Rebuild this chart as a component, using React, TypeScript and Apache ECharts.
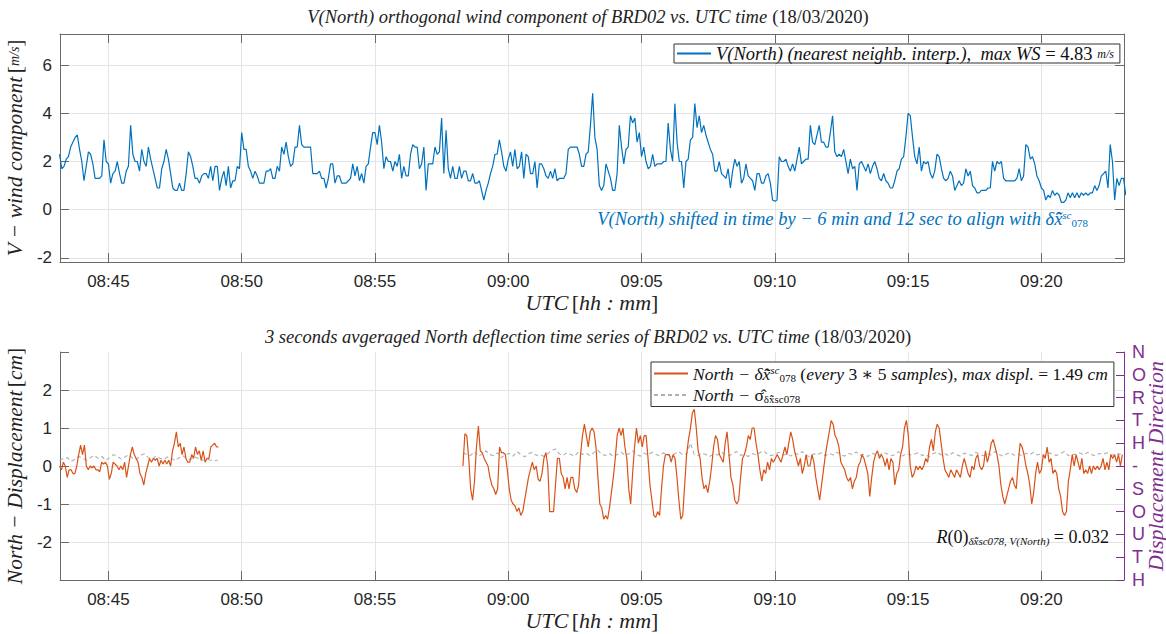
import React, { useEffect, useRef } from "react";
import * as echarts from "echarts";

// ---------- axis ranges / labels ----------
const X_MIN = "08:43:11";
const X_MAX = "09:23:06";
const X_TICK_STEP_MIN = 5;
const TOP_Y_RANGE = [-2.17, 7.29];
const TOP_Y_STEP = 2;
const BOT_Y_RANGE = [-3, 3];
const BOT_Y_STEP = 1;
const DIRECTION_LABELS = ["N", "O", "R", "T", "H", "-", "S", "O", "U", "T", "H"];

// ---------- V(North) wind component (nearest neighb.), m/s, every 5 s ----------
const vNorthStart = "08:43:10";
const vNorthStepSec = 5;
const vNorth = [
  2.3, 1.7, 1.8, 2.1, 2.2, 2.6, 2.8, 3.0, 3.1, 2.5,
  2.0, 1.2, 1.8, 2.4, 2.3, 1.9, 1.3, 1.3, 1.3, 1.4,
  2.9, 2.0, 1.9, 1.1, 1.5, 1.6, 2.0, 1.5, 1.1, 1.1,
  1.6, 1.8, 3.5, 2.3, 2.0, 2.0, 1.6, 2.5, 2.0, 1.8,
  2.6, 2.1, 1.7, 1.3, 0.9, 0.9, 1.7, 2.0, 2.5, 2.1,
  1.5, 0.9, 0.8, 0.8, 1.1, 0.8, 0.8, 1.5, 2.4, 2.2,
  1.8, 1.3, 1.3, 1.1, 1.4, 1.5, 1.5, 1.3, 1.8, 1.2,
  1.8, 1.8, 0.8, 1.3, 1.6, 1.0, 1.8, 0.9, 1.2, 1.2,
  1.8, 1.7, 3.2, 2.5, 2.5, 1.8, 1.6, 1.3, 1.6, 1.4,
  1.1, 1.1, 1.1, 1.6, 1.6, 1.7, 1.3, 1.3, 1.8, 1.6,
  2.6, 2.3, 2.8, 2.2, 1.8, 1.9, 2.6, 2.6, 3.5, 2.7,
  2.6, 2.6, 2.6, 2.6, 1.5, 1.5, 1.5, 1.6, 1.3, 1.3,
  0.9, 1.3, 1.9, 1.9, 1.1, 1.4, 1.4, 1.1, 1.1, 1.1,
  1.2, 1.3, 1.9, 1.4, 1.8, 1.2, 1.5, 1.1, 1.8, 1.9,
  2.6, 3.2, 3.2, 2.7, 3.5, 2.8, 1.7, 2.2, 2.0, 2.0,
  1.6, 2.0, 1.8, 2.3, 1.3, 1.8, 1.4, 1.4, 2.3, 2.7,
  2.6, 2.6, 1.7, 1.9, 2.6, 0.8, 1.9, 1.9, 1.9, 2.6,
  2.3, 2.4, 3.8, 1.5, 3.3, 1.7, 1.3, 1.8, 1.3, 1.3,
  1.8, 1.3, 1.6, 1.6, 1.2, 1.2, 1.5, 1.1, 1.1, 1.2,
  0.8, 0.4, 0.8, 1.1, 1.5, 1.8, 2.3, 2.3, 2.9, 2.4,
  1.8, 1.6, 2.1, 2.4, 1.8, 2.5, 1.7, 1.8, 2.4, 1.3,
  2.3, 2.2, 1.5, 1.5, 2.0, 0.9, 1.9, 1.9, 1.7, 1.4,
  1.3, 1.6, 1.3, 1.7, 1.2, 1.3, 1.3, 1.3, 1.5, 2.5,
  2.6, 2.6, 2.6, 2.6, 2.3, 1.8, 1.8, 2.3, 2.4, 3.5,
  4.83, 3.0, 2.5, 1.0, 0.8, 1.0, 1.9, 1.6, 1.3, 0.8,
  0.8, 1.5, 3.5, 2.6, 1.9, 2.5, 2.6, 3.9, 3.6, 3.8,
  2.8, 3.2, 2.2, 2.6, 2.0, 1.7, 1.8, 2.3, 1.8, 1.9,
  1.9, 1.9, 2.0, 2.0, 3.6, 2.5, 2.0, 4.4, 2.8, 2.0,
  2.0, 0.9, 2.0, 2.1, 2.9, 3.0, 4.4, 3.4, 3.9, 3.2,
  3.5, 3.1, 2.8, 2.5, 2.3, 1.6, 1.6, 2.0, 1.5, 1.4,
  1.3, 1.7, 0.9, 1.6, 2.1, 1.8, 2.0, 1.1, 1.3, 1.9,
  1.4, 1.3, 1.2, 0.8, 1.5, 1.5, 1.1, 1.1, 1.4, 1.5,
  1.1, 0.4, 0.35, 0.4, 2.2, 2.0, 2.0, 2.1, 1.8, 1.6,
  1.9, 1.6, 2.1, 2.6, 1.9, 2.0, 2.1, 2.1, 3.5, 2.8,
  2.7, 3.1, 3.5, 2.8, 2.8, 2.6, 2.6, 3.2, 3.9, 2.4,
  2.2, 2.3, 2.2, 2.5, 2.0, 1.5, 2.1, 1.7, 1.8, 0.8,
  1.9, 2.0, 1.8, 1.6, 1.9, 1.5, 1.8, 2.0, 1.7, 1.3,
  1.2, 1.5, 1.2, 1.1, 0.9, 0.9, 1.2, 1.6, 1.7, 2.1,
  2.2, 3.0, 4.0, 3.9, 3.0, 2.2, 1.9, 2.6, 1.6, 2.0,
  1.9, 2.0, 1.5, 1.3, 1.6, 2.3, 2.2, 1.7, 1.3, 1.2,
  1.3, 1.6, 1.4, 0.8, 1.0, 1.2, 1.0, 1.1, 1.7, 1.4,
  1.6, 1.0, 0.9, 0.7, 0.7, 0.8, 0.8, 0.8, 0.9, 0.9,
  2.0, 1.6, 2.0, 1.9, 2.0, 1.3, 1.2, 1.2, 1.2, 1.2,
  1.2, 1.3, 1.7, 1.2, 1.4, 2.7, 2.6, 2.1, 2.2, 1.9,
  1.4, 1.2, 0.9, 0.8, 0.4, 0.6, 0.5, 0.8, 0.6, 0.7,
  0.6, 0.3, 0.3, 0.4, 0.7, 0.5, 0.7, 0.5, 0.7, 0.5,
  0.7, 0.6, 0.7, 0.6, 0.7, 0.7, 1.0, 0.8, 1.0, 1.4,
  1.5, 1.6, 0.9, 2.7, 2.0, 0.4, 1.3, 1.0, 1.3, 1.3, 0.6,
];

// ---------- North displacement (cm), 3 s averaged ----------
const dispSeg1Start = "08:43:10";
const dispSeg1StepSec = 4.31;
const dispSeg1 = [
  0.0, -0.1, 0.1, 0.0, -0.3, -0.1, -0.1, -0.2, -0.2, 0.0,
  0.3, 0.55, 0.3, 0.55, 0.0, -0.1, 0.0, -0.05, 0.0, -0.1,
  -0.1, -0.15, 0.1, 0.05, 0.1, 0.0, -0.35, -0.2, 0.1, 0.05,
  0.0, -0.1, 0.0, -0.1, 0.1, -0.3, 0.0, 0.3, 0.5, 0.3,
  0.2, 0.1, -0.2, -0.3, -0.5, -0.2, 0.0, 0.2, 0.1, 0.2,
  0.15, 0.2, 0.0, 0.15, 0.05, 0.15, 0.05, 0.15, 0.0, 0.4,
  0.6, 0.9, 0.5, 0.6, 0.3, 0.5, 0.2, 0.1, 0.1, 0.3,
  0.2, 0.5, 0.3, 0.4, 0.15, 0.4, 0.1, 0.2, 0.2, 0.5,
  0.55, 0.6, 0.5, 0.5,
];
const dispSeg2Start = "08:58:18";
const dispSeg2StepSec = 4.34;
const dispSeg2 = [
  0.0, 0.85, 0.8, 0.2, -0.6, -0.9, -0.4, 0.5, 1.05, 0.4,
  0.35, 0.2, 0.1, 0.0, -0.3, -0.5, -0.6, -0.75, -0.6, 0.5,
  0.35, 0.35, 0.3, -0.1, -0.6, -0.9, -1.0, -1.05, -1.2, -1.1,
  -1.3, -1.2, -0.9, -0.6, -0.3, -0.1, 0.1, -0.1, 0.0, -0.35,
  -0.4, -0.2, 0.2, 0.35, 0.0, -1.2, -1.2, -1.2, -0.5, 0.2,
  0.2, -0.2, -0.3, -0.6, -0.3, -0.6, -0.3, -0.3, -0.6, -0.7,
  -0.5, 0.3, 0.8, 1.1, 0.8, 0.5, 0.9, 1.0, 0.9, 0.5,
  -0.3, -1.0, -1.1, -1.4, -1.3, -1.4, -1.1, -0.7, -0.3, 0.2,
  0.8, 1.0, 0.8, 1.0, 0.5, 0.2, -0.6, -1.0, -0.2, 0.5,
  1.0, 0.6, 0.8, 0.5, 0.8, 0.8, 0.2, -0.5, -0.9, -1.3,
  -1.35, -1.2, -1.3, -0.6, 0.0, 0.3, 0.3, 0.3, 0.1, 0.3,
  0.2, -0.3, -0.9, -1.4, -1.3, -0.5, 0.3, 0.7, 1.0, 1.4,
  1.49, 1.0, 0.4, 0.2, -0.3, -0.6, -0.5, -0.7, -0.4, 0.0,
  0.5, 0.8, 0.7, 0.3, 0.2, 0.1, 0.6, 0.9, 0.3, -0.3,
  -0.5, -0.9, -1.0, -0.9, -0.3, 0.2, 0.3, 0.5, 0.8, 0.7,
  1.0, 1.0, 0.6, 0.3, -0.1, -0.4, -0.1, -0.2, 0.1, -0.1,
  0.2, 0.1, 0.2, 0.3, 0.2, 0.1, 0.3, 0.5, 0.3, 0.6,
  0.9, 0.7, 0.4, 0.2, 0.0, 0.2, -0.2, 0.0, 0.3, 0.0,
  0.0, 0.3, 0.1, -0.3, -0.6, -0.9, -0.5, -0.1, 0.3, 0.6,
  0.9, 1.2, 1.1, 0.8, 0.7, 0.5, 0.1, 0.0, -0.1, -0.3,
  -0.4, -0.3, -0.6, -0.4, -0.3, 0.0, 0.1, 0.3, 0.2, 0.0,
  -0.2, -0.8, -0.3, 0.1, 0.3, 0.4, 0.2, 0.3, 0.2, 0.0,
  0.2, -0.1, 0.2, 0.1, -0.5, -0.2, -0.1, 0.3, 0.5, 1.0,
  1.2, 0.8, 0.0, -0.3, -0.2, 0.0, -0.1, 0.0, -0.1, 0.0,
  0.2, 0.1, 0.5, 0.7, 0.4, 0.9, 1.1, 1.0, 0.6, 0.2,
  -0.1, -0.2, -0.3, -0.1, -0.2, -0.3, -0.1, -0.2, -0.3, 0.0,
  0.2, 0.0, -0.2, -0.3, 0.0, -0.1, 0.2, 0.3, 0.0, -0.1,
  0.0, 0.4, 0.1, 0.3, 0.6, 0.7, 0.5, 0.3, 0.0, -0.5,
  -0.8, -1.0, -0.8, -0.6, -0.4, -0.3, -0.5, -0.6, 0.1, 0.6,
  0.5, 0.3, 0.0, -0.2, -0.5, -1.0, -0.7, -0.2, 0.1, -0.2,
  -0.1, 0.3, 0.2, 0.5, 0.1, 0.2, -0.2, -0.1, -0.2, -0.6,
  -0.8, -1.2, -1.3, -1.2, -0.4, -0.1, 0.3, 0.0, 0.3, 0.1,
  -0.1, 0.2, -0.2, -0.1, -0.2, 0.0, -0.2, 0.0, -0.1, 0.0,
  -0.1, 0.0, 0.2, -0.1, 0.1, -0.1, 0.3, 0.2, 0.3, 0.1,
  0.3, 0.0, 0.3,
];

// ---------- sigma of the displacement estimate (cm) ----------
const sigmaSeg1Start = "08:43:10";
const sigmaSeg1StepSec = 8.68;
const sigmaSeg1 = [
  0.15, 0.2, 0.22, 0.12, 0.18, 0.25, 0.2, 0.15, 0.22, 0.28,
  0.2, 0.25, 0.15, 0.22, 0.3, 0.25, 0.18, 0.24, 0.3, 0.2,
  0.18, 0.28, 0.32, 0.22, 0.18, 0.26, 0.2, 0.17, 0.24, 0.2,
  0.14, 0.22, 0.27, 0.19, 0.17, 0.24, 0.2, 0.15, 0.18, 0.16,
  0.14, 0.15,
];
const sigmaSeg2Start = "08:58:18";
const sigmaSeg2StepSec = 8.68;
const sigmaSeg2 = [
  0.35, 0.3, 0.28, 0.38, 0.25, 0.32, 0.4, 0.3, 0.27, 0.35,
  0.22, 0.3, 0.33, 0.26, 0.38, 0.3, 0.24, 0.32, 0.36, 0.28,
  0.3, 0.25, 0.33, 0.4, 0.45, 0.32, 0.28, 0.35, 0.3, 0.26,
  0.38, 0.3, 0.34, 0.27, 0.36, 0.42, 0.3, 0.28, 0.33, 0.25,
  0.3, 0.37, 0.28, 0.32, 0.4, 0.3, 0.26, 0.34, 0.29, 0.36,
  0.31, 0.27, 0.35, 0.3, 0.24, 0.33, 0.38, 0.29, 0.32, 0.6,
  0.3, 0.27, 0.34, 0.3, 0.25, 0.32, 0.29, 0.36, 0.3, 0.27,
  0.33, 0.38, 0.28, 0.3, 0.25, 0.33, 0.29, 0.35, 0.4, 0.3,
  0.27, 0.32, 0.36, 0.29, 0.31, 0.26, 0.34, 0.3, 0.38, 0.28,
  0.24, 0.32, 0.3, 0.35, 0.27, 0.33, 0.29, 0.36, 0.3, 0.26,
  0.33, 0.3, 0.37, 0.28, 0.31, 0.25, 0.34, 0.3, 0.28, 0.36,
  0.32, 0.27, 0.3, 0.38, 0.26, 0.33, 0.29, 0.31, 0.35, 0.28,
  0.3, 0.24, 0.33, 0.37, 0.29, 0.32, 0.27, 0.35, 0.3, 0.26,
  0.34, 0.3, 0.28, 0.36, 0.31, 0.27, 0.33, 0.29, 0.38, 0.3,
  0.26, 0.32, 0.35, 0.28, 0.31, 0.27, 0.34, 0.3, 0.36, 0.29,
  0.32, 0.26, 0.35, 0.3, 0.28, 0.33, 0.38, 0.27, 0.31, 0.3,
  0.34, 0.29, 0.36, 0.3, 0.27, 0.33, 0.3, 0.35, 0.28, 0.3,
  0.32, 0.3,
];

// ---------- helpers ----------
function toMin(s: string): number {
  const [h, m, sec] = s.split(":").map(Number);
  return h * 60 + m + (sec || 0) / 60;
}
function fmtHM(v: number): string {
  const r = Math.round(v);
  const h = Math.floor(r / 60);
  const m = r % 60;
  return String(h).padStart(2, "0") + ":" + String(m).padStart(2, "0");
}
function sampled(start: string, stepSec: number, values: number[]): (number | null)[][] {
  const t0 = toMin(start);
  return values.map((v, i) => [t0 + (i * stepSec) / 60, v]);
}
function withGap(a: (number | null)[][], b: (number | null)[][]) {
  const lastA = a[a.length - 1][0] as number;
  const firstB = b[0][0] as number;
  return [...a, [(lastA + firstB) / 2, null], ...b];
}

const BLUE = "#0072BD";
const ORANGE = "#D95319";
const GRAYDASH = "#AFAFAF";
const PURPLE = "#7E2F8E";
const AXIS = "#6a6a6a";
const TEXT = "#262626";
const GRID = "#e4e4e4";
const SERIF = "'Liberation Serif', 'DejaVu Serif', serif";
const SANS = "'Liberation Sans', Arial, sans-serif";

const it = (size: number, color = "#111") => ({ fontFamily: SERIF, fontStyle: "italic", fontWeight: "normal", fontSize: size, color });
const up = (size: number, color = "#111") => ({ fontFamily: SERIF, fontStyle: "normal", fontWeight: "normal", fontSize: size, color });
// zrender (graphic) rich styles use "fill"
const itZ = (size: number, fill: string) => ({ fontFamily: SERIF, fontStyle: "italic", fontWeight: "normal", fontSize: size, fill });
const upZ = (size: number, fill: string) => ({ fontFamily: SERIF, fontStyle: "normal", fontWeight: "normal", fontSize: size, fill });

const legendRich = (size: number) => ({
  i: it(size),
  n: up(size),
  f: it(12),
  sup: { ...it(11), verticalAlign: "top", padding: [0, 0, 8, 0] },
  sub: { ...up(11), verticalAlign: "bottom", padding: [8, 0, 0, 0] },
});

const xLabelFormatter = (v: number) =>
  Math.abs(v / X_TICK_STEP_MIN - Math.round(v / X_TICK_STEP_MIN)) < 1e-6 ? fmtHM(v) : "";

function makeOption() {
  const xMin = toMin(X_MIN);
  const xMax = toMin(X_MAX);
  const vData = sampled(vNorthStart, vNorthStepSec, vNorth);
  const dData = withGap(
    sampled(dispSeg1Start, dispSeg1StepSec, dispSeg1),
    sampled(dispSeg2Start, dispSeg2StepSec, dispSeg2)
  );
  const sData = withGap(
    sampled(sigmaSeg1Start, sigmaSeg1StepSec, sigmaSeg1),
    sampled(sigmaSeg2Start, sigmaSeg2StepSec, sigmaSeg2)
  );

  const baseX = (gridIndex: number, position: "bottom" | "top", withLabels: boolean, nameText: string) => ({
    type: "value",
    gridIndex,
    position,
    min: xMin,
    max: xMax,
    minInterval: X_TICK_STEP_MIN,
    maxInterval: X_TICK_STEP_MIN,
    axisLine: { show: true, onZero: false, lineStyle: { color: AXIS, width: 1 } },
    axisTick: { show: true, inside: true, length: 9, lineStyle: { color: AXIS } },
    axisLabel: {
      show: withLabels,
      showMinLabel: false,
      showMaxLabel: false,
      formatter: xLabelFormatter,
      fontFamily: SANS,
      fontSize: 17,
      color: TEXT,
      margin: 11,
    },
    splitLine: { show: withLabels, lineStyle: { color: GRID, width: 1 } },
    name: withLabels ? nameText : "",
    nameLocation: "middle",
    nameGap: 29,
    nameTextStyle: { rich: { i: it(22, "#222"), n: up(22, "#222") } },
  });

  const topY = (position: "left" | "right", withLabels: boolean) => ({
    type: "value",
    gridIndex: 0,
    position,
    min: TOP_Y_RANGE[0],
    max: TOP_Y_RANGE[1],
    minInterval: TOP_Y_STEP,
    maxInterval: TOP_Y_STEP,
    axisLine: { show: true, onZero: false, lineStyle: { color: AXIS, width: 1 } },
    axisTick: { show: true, inside: true, length: 9, lineStyle: { color: AXIS } },
    axisLabel: {
      show: withLabels,
      showMinLabel: false,
      showMaxLabel: false,
      formatter: (v: number) => (Math.abs(v - Math.round(v)) < 1e-6 ? String(v) : ""),
      fontFamily: SANS,
      fontSize: 17,
      color: TEXT,
      margin: 8,
    },
    splitLine: { show: withLabels, lineStyle: { color: GRID, width: 1 } },
    name: withLabels ? "{i|V − wind component} {n|[}{f|m/s}{n|]}" : "",
    nameLocation: "middle",
    nameRotate: 90,
    nameGap: 30,
    nameTextStyle: { rich: { i: it(21.5, "#222"), n: up(21.5, "#222"), f: it(14, "#222") } },
  });

  const botSplitColors = [
    "rgba(0,0,0,0)", GRID, GRID, GRID, GRID, GRID, "rgba(0,0,0,0)",
  ];

  return {
    animation: false,
    backgroundColor: "#ffffff",
    title: [
      {
        text: "{i|V(North) orthogonal wind component of BRD02 vs. UTC time} {n|(18/03/2020)}",
        left: 588,
        top: 7,
        textAlign: "center",
        padding: 0,
        textStyle: { fontWeight: "normal", rich: { i: it(18.5, "#222"), n: up(18.5, "#222") } },
      },
      {
        text: "{i|3 seconds avgeraged North deflection time series of BRD02 vs. UTC time} {n|(18/03/2020)}",
        left: 588,
        top: 327,
        textAlign: "center",
        padding: 0,
        textStyle: { fontWeight: "normal", rich: { i: it(18.5, "#222"), n: up(18.5, "#222") } },
      },
    ],
    grid: [
      { left: 60, top: 34, width: 1064, height: 228, containLabel: false, outerBoundsMode: "none" },
      { left: 60, top: 352, width: 1064, height: 228, containLabel: false, outerBoundsMode: "none" },
    ],
    xAxis: [
      baseX(0, "bottom", true, "{i|UTC} {n|[}{i|hh : mm}{n|]}"),
      baseX(0, "top", false, ""),
      baseX(1, "bottom", true, "{i|UTC} {n|[}{i|hh : mm}{n|]}"),
    ],
    yAxis: [
      topY("left", true),
      topY("right", false),
      {
        type: "value",
        gridIndex: 1,
        position: "left",
        min: BOT_Y_RANGE[0],
        max: BOT_Y_RANGE[1],
        interval: BOT_Y_STEP,
        axisLine: { show: true, onZero: false, lineStyle: { color: AXIS, width: 1 } },
        axisTick: { show: true, inside: true, length: 9, lineStyle: { color: AXIS } },
        axisLabel: {
          formatter: (v: number) => (Math.abs(v) >= 3 ? "" : String(v)),
          fontFamily: SANS,
          fontSize: 17,
          color: TEXT,
          margin: 8,
        },
        splitLine: { show: true, lineStyle: { color: botSplitColors, width: 1 } },
        name: "{i|North − Displacement} {n|[}{i|cm}{n|]}",
        nameLocation: "middle",
        nameRotate: 90,
        nameGap: 30,
        nameTextStyle: { rich: { i: it(21.5, "#222"), n: up(21.5, "#222") } },
      },
      {
        type: "category",
        gridIndex: 1,
        position: "right",
        inverse: true,
        boundaryGap: false,
        data: DIRECTION_LABELS,
        axisLine: { show: true, lineStyle: { color: PURPLE, width: 1 } },
        axisTick: { show: true, inside: true, length: 8, interval: 0, lineStyle: { color: PURPLE } },
        axisLabel: { interval: 0, fontFamily: SANS, fontSize: 18, color: PURPLE, margin: 8 },
        splitLine: { show: false },
        name: "Displacement Direction",
        nameLocation: "middle",
        nameRotate: 90,
        nameGap: 20,
        nameMoveOverlap: false,
        nameTextStyle: { fontFamily: SERIF, fontStyle: "italic", fontSize: 22, color: PURPLE },
      },
    ],
    legend: [
      {
        data: ["vnorth"],
        left: 674,
        top: 44,
        orient: "vertical",
        backgroundColor: "#fff",
        borderColor: "#333",
        borderWidth: 1,
        borderRadius: 0,
        padding: [0, 6, 0, 2],
        itemWidth: 34,
        itemHeight: 12,
        selectedMode: false,
        itemStyle: { opacity: 0 },
        formatter: () =>
          "{i|V(North) (nearest neighb. interp.),  max WS }{n|= 4.83 }{f|m/s}",
        textStyle: { rich: legendRich(18.5) },
      },
      {
        data: ["disp", "sigma"],
        left: 651,
        top: 362,
        orient: "vertical",
        backgroundColor: "#fff",
        borderColor: "#333",
        borderWidth: 1,
        borderRadius: 0,
        padding: [2, 6, 2, 2],
        itemGap: 3,
        itemWidth: 34,
        itemHeight: 12,
        selectedMode: false,
        itemStyle: { opacity: 0 },
        formatter: (name: string) =>
          name === "disp"
            ? "{i|North − δx̂̃}{sup|sc}{sub|078}{n| (}{i|every }{n|3 ∗ 5 }{i|samples}{n|), }{i|max displ.}{n| = 1.49 }{i|cm}"
            : "{i|North − }{n|σ̂}{sub|δx̂̃sc078}",
        textStyle: { rich: legendRich(17.5) },
      },
    ],
    graphic: [
      {
        type: "text",
        right: 78,
        top: 209,
        z: 10,
        style: {
          text: "{i|V(North) shifted in time by − 6 min and 12 sec to align with δx̂̃}{sup|sc}{sub|078}",
          rich: {
            i: itZ(18.5, BLUE),
            sup: { ...itZ(11, BLUE), verticalAlign: "top", padding: [0, 0, 8, 0] },
            sub: { ...upZ(11, BLUE), verticalAlign: "bottom", padding: [8, 0, 0, 0] },
          },
        },
      },
      {
        type: "text",
        right: 57,
        top: 528,
        z: 10,
        style: {
          text: "{i|R}{n|(0)}{sub|δx̂̃sc078, V(North)}{n| = 0.032}",
          rich: {
            i: itZ(18, "#111"),
            n: upZ(18, "#111"),
            sub: { ...itZ(11, "#111"), verticalAlign: "bottom", padding: [8, 0, 0, 0] },
          },
        },
      },
    ],
    series: [
      {
        name: "vnorth",
        type: "line",
        xAxisIndex: 0,
        yAxisIndex: 0,
        data: vData,
        symbol: "none",
        showSymbol: false,
        lineStyle: { color: BLUE, width: 1.2 },
        itemStyle: { color: BLUE },
        emphasis: { disabled: true },
        z: 3,
      },
      {
        name: "disp",
        type: "line",
        xAxisIndex: 2,
        yAxisIndex: 2,
        data: dData,
        symbol: "none",
        showSymbol: false,
        connectNulls: false,
        lineStyle: { color: ORANGE, width: 1.2 },
        itemStyle: { color: ORANGE },
        emphasis: { disabled: true },
        z: 3,
      },
      {
        name: "sigma",
        type: "line",
        xAxisIndex: 2,
        yAxisIndex: 2,
        data: sData,
        symbol: "none",
        showSymbol: false,
        connectNulls: false,
        lineStyle: { color: GRAYDASH, width: 1.1, type: [4, 3] },
        itemStyle: { color: GRAYDASH },
        emphasis: { disabled: true },
        z: 2,
      },
    ],
  };
}

export default function App() {
  const ref = useRef<HTMLDivElement>(null);
  useEffect(() => {
    if (!ref.current) return;
    const chart = echarts.init(ref.current, null, { renderer: "svg" });
    chart.setOption(makeOption() as any);
    return () => chart.dispose();
  }, []);
  return (
    <div
      ref={ref}
      style={{ position: "fixed", left: 0, top: 0, width: 1166, height: 634, background: "#fff" }}
    />
  );
}
